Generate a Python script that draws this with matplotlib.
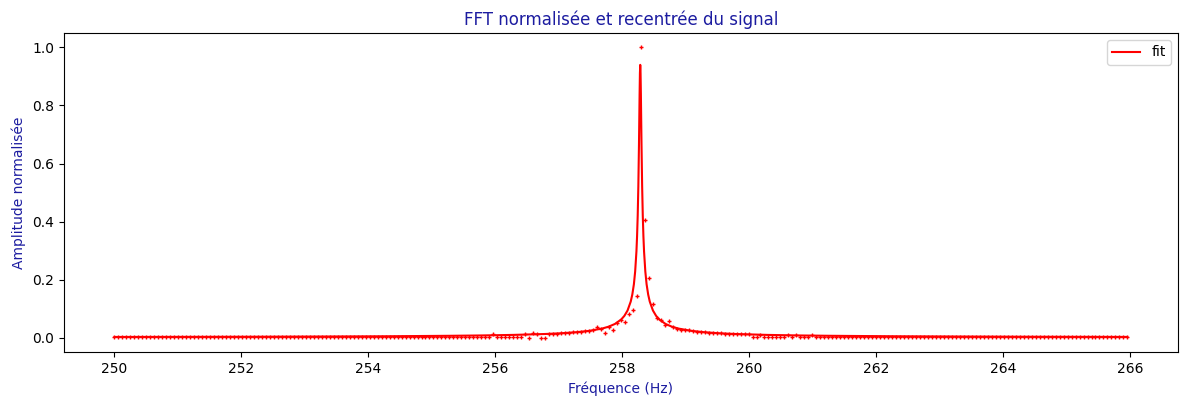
import numpy as np
import matplotlib
matplotlib.use('Agg')
import matplotlib.pyplot as plt

# FFT bins (Hz)
FREQ_START = 250.0
FREQ_STEP = 0.0628

# normalised FFT amplitude, one value per bin
amp = ([0.001] * 84 + [0.002] * 11 + [0.013] + [0.003] * 7
       + [0.014, 0.0, 0.015, 0.011, 0.0, 0.0, 0.012]
       + [0.014, 0.014, 0.015, 0.016, 0.017, 0.018, 0.019, 0.020, 0.022, 0.023, 0.025]
       + [0.036, 0.030, 0.016, 0.038, 0.026, 0.051, 0.062, 0.053, 0.082, 0.096, 0.142]
       + [1.0]
       + [0.405, 0.205, 0.115, 0.068, 0.060, 0.045, 0.058, 0.036, 0.031, 0.028, 0.025]
       + [0.025, 0.023, 0.021, 0.020, 0.019, 0.017, 0.016, 0.016,
          0.015, 0.014, 0.013, 0.013, 0.012, 0.012, 0.011, 0.011]
       + [0.002, 0.002, 0.010] + [0.002] * 6 + [0.009, 0.002, 0.009]
       + [0.002] * 3 + [0.008]
       + [0.002] * 18 + [0.001] * 61)

# fitted curve
fit_freq = [250.0, 251.28, 252.28, 253.28, 254.28, 255.28, 255.78, 256.28, 256.78,
            257.03, 257.28, 257.48, 257.68, 257.78, 257.88, 257.98, 258.03, 258.08,
            258.13, 258.155, 258.18, 258.20, 258.22, 258.23, 258.24, 258.25, 258.26,
            258.265, 258.27, 258.275, 258.28, 258.285, 258.29, 258.295, 258.30,
            258.31, 258.32, 258.33, 258.34, 258.36, 258.38, 258.405, 258.43, 258.48,
            258.53, 258.58, 258.68, 258.78, 258.88, 259.08, 259.28, 259.53, 259.78,
            260.28, 260.78, 261.28, 262.28, 263.28, 264.28, 265.28, 265.95]
fit_amp = [0.0023, 0.0027, 0.0031, 0.0038, 0.0047, 0.0063, 0.0075, 0.0094, 0.0125,
           0.0150, 0.0188, 0.0235, 0.0313, 0.0376, 0.0470, 0.0625, 0.0750, 0.0935,
           0.1242, 0.1485, 0.184, 0.228, 0.297, 0.349, 0.420, 0.521, 0.665, 0.752,
           0.841, 0.912, 0.940, 0.912, 0.841, 0.752, 0.665, 0.521, 0.420, 0.349,
           0.297, 0.228, 0.184, 0.1485, 0.1242, 0.0935, 0.0750, 0.0625, 0.0470,
           0.0376, 0.0313, 0.0235, 0.0188, 0.0150, 0.0125, 0.0094, 0.0075, 0.0063,
           0.0047, 0.0038, 0.0031, 0.0027, 0.0024]

LABEL_COLOR = '#1c1ca0'

freq = FREQ_START + FREQ_STEP * np.arange(len(amp))

fig, ax = plt.subplots(figsize=(11.81, 3.97), dpi=100)
fig.subplots_adjust(left=0.054, right=0.9975, top=0.917, bottom=0.113)

ax.plot(freq, amp, '+', color='red', markersize=3.5, markeredgewidth=1)
ax.plot(fit_freq, fit_amp, '-', color='red', linewidth=1.5, label='fit')

ax.set_title('FFT normalisée et recentrée du signal', color=LABEL_COLOR, fontsize=12)
ax.set_xlabel('Fréquence (Hz)', color=LABEL_COLOR)
ax.set_ylabel('Amplitude normalisée', color=LABEL_COLOR)
ax.legend(loc='upper right')

fig.savefig('out.png')
